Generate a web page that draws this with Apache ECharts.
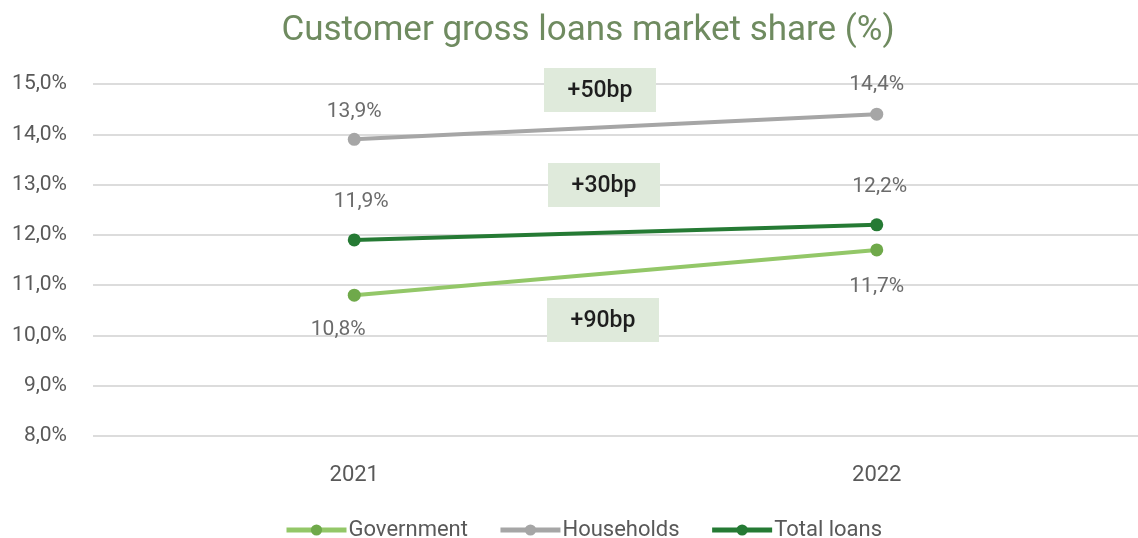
<!DOCTYPE html>
<html>
<head>
<meta charset="utf-8">
<script src="https://cdn.jsdelivr.net/npm/echarts@6/dist/echarts.min.js"></script>
<style>
html,body{margin:0;padding:0;background:#fff;}
#chart{width:1138px;height:538px;}
</style>
</head>
<body>
<div id="chart"></div>
<script>
const categories = ['2021', '2022'];
const government = [10.8, 11.7];
const households = [13.9, 14.4];
const totalLoans = [11.9, 12.2];
const yTicks = { min: 8, max: 15, interval: 1 };
const changeLabels = ['+50bp', '+30bp', '+90bp'];

const FONT = 'Roboto, "Noto Sans", sans-serif';
const fmt = v => v.toFixed(1).replace('.', ',') + '%';

const chart = echarts.init(document.getElementById('chart'));

function lineSeries(name, data, color, symColor, pos, dist, offsets) {
  return {
    name: name,
    type: 'line',
    data: data.map((v, i) => ({
      value: v,
      label: { offset: offsets[i] }
    })),
    symbol: 'circle',
    symbolSize: 13,
    lineStyle: { color: color, width: 4 },
    itemStyle: { color: symColor },
    label: {
      show: true,
      position: pos,
      distance: dist,
      color: '#6b6b6b',
      fontFamily: FONT,
      fontSize: 21,
      formatter: p => fmt(p.value)
    },
    emphasis: { disabled: true },
    animation: false
  };
}

function box(cx, cy, text) {
  return {
    type: 'group',
    x: cx, y: cy,
    z: 100,
    children: [
      { type: 'rect', z: 100, shape: { x: -56, y: -22, width: 112, height: 44 }, style: { fill: '#dfeadb' } },
      { type: 'text', z: 101, style: { text: text, x: 0, y: 1, align: 'center', verticalAlign: 'middle', fill: '#1e1e1e', font: '500 23px ' + FONT } }
    ]
  };
}

chart.setOption({
  backgroundColor: '#ffffff',
  animation: false,
  title: {
    text: 'Customer gross loans market share (%)',
    left: 583,
    textAlign: 'center',
    top: 9,
    textStyle: { color: '#6f8b60', fontFamily: FONT, fontSize: 35, fontWeight: 'normal' }
  },
  legend: {
    bottom: -8,
    left: 279,
    itemWidth: 60,
    itemHeight: 14,
    itemGap: 30,
    lineStyle: { width: 5 },
    textStyle: { color: '#595959', fontFamily: FONT, fontSize: 22, padding: [0, 0, 0, -3] },
    data: ['Government', 'Households', 'Total loans']
  },
  grid: { left: 93, top: 84, width: 1054, height: 352 },
  xAxis: {
    type: 'category',
    data: categories,
    axisLine: { show: false },
    axisTick: { show: false },
    axisLabel: { color: '#595959', fontFamily: FONT, fontSize: 22, margin: 28 }
  },
  yAxis: {
    type: 'value',
    min: yTicks.min,
    max: yTicks.max,
    interval: yTicks.interval,
    axisLine: { show: false },
    axisTick: { show: false },
    splitLine: { lineStyle: { color: '#dcdcdc', width: 2 } },
    axisLabel: { color: '#595959', fontFamily: FONT, fontSize: 21, margin: 26, formatter: v => fmt(v) }
  },
  series: [
    lineSeries('Government', government, '#93c768', '#6fa94a', 'bottom', 19, [[-16, -1], [0, 1]]),
    lineSeries('Households', households, '#a6a6a6', '#a6a6a6', 'top', 11, [[0, 0], [0, -1]]),
    lineSeries('Total loans', totalLoans, '#257a34', '#257a34', 'top', 21, [[7, 0], [3, 0]])
  ],
  graphic: [
    box(600, 90, changeLabels[0]),
    box(604, 185, changeLabels[1]),
    box(603, 320, changeLabels[2])
  ]
});
</script>
</body>
</html>
